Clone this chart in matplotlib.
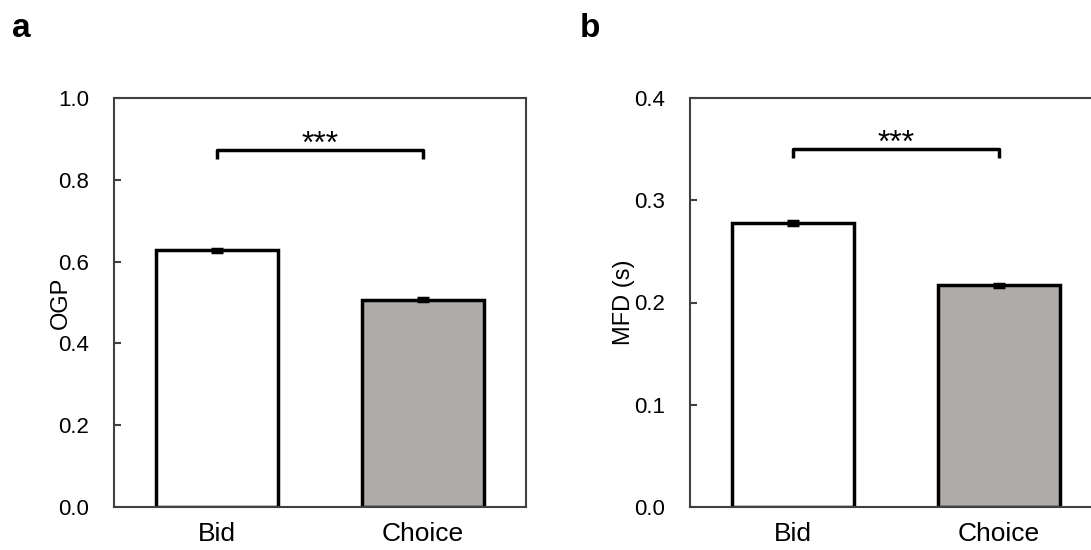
import matplotlib.pyplot as plt

plt.rcParams['font.family'] = ['Liberation Sans', 'DejaVu Sans']

conditions = ["Bid", "Choice"]
ogp_means = [0.628, 0.507]
ogp_errs = [0.004, 0.004]
mfd_means = [0.278, 0.217]
mfd_errs = [0.002, 0.0015]
bar_colors = ["white", "#afaba8"]

fig = plt.figure(figsize=(10.91, 5.5), dpi=100)
ax_a = fig.add_axes([114 / 1091, 43 / 550, 412 / 1091, 409 / 550])
ax_b = fig.add_axes([690 / 1091, 43 / 550, 412 / 1091, 409 / 550])


def draw_panel(ax, means, errs, ymax, yticks, ylabel, bracket_y, drop, label_x):
    x = range(len(conditions))
    ax.bar(x, means, width=0.59, color=bar_colors, edgecolor="black",
           linewidth=2.5, zorder=2)
    ax.errorbar(x, means, yerr=errs, fmt="none", ecolor="black",
                elinewidth=2.5, capsize=4, capthick=2.5, zorder=3)
    # significance bracket
    ax.plot([0, 0, 1, 1], [bracket_y - drop, bracket_y, bracket_y, bracket_y - drop],
            color="black", linewidth=2.5, solid_capstyle="butt")
    ax.text(0.5, bracket_y - 0.008 * ymax, "***", ha="center", va="baseline",
            fontsize=23)
    ax.set_xlim(-0.5, 1.5)
    ax.set_ylim(0, ymax)
    ax.set_yticks(yticks)
    ax.set_yticklabels([f"{t:.1f}" for t in yticks])
    ax.set_xticks(list(x))
    ax.set_xticklabels(conditions)
    ax.tick_params(axis="y", direction="in", length=5, width=1.5,
                   color="#404040", labelsize=16, pad=18)
    ax.tick_params(axis="x", length=0, labelsize=19, pad=11)
    for sp in ax.spines.values():
        sp.set_color("#404040")
        sp.set_linewidth(1.5)
    ax.set_ylabel(ylabel, fontsize=17)
    ax.yaxis.set_label_coords(label_x, 0.5)


draw_panel(ax_a, ogp_means, ogp_errs, 1.0, [0.0, 0.2, 0.4, 0.6, 0.8, 1.0],
           "OGP", 0.873, 0.022, -0.102)
draw_panel(ax_b, mfd_means, mfd_errs, 0.4, [0.0, 0.1, 0.2, 0.3, 0.4],
           "MFD (s)", 0.350, 0.009, -0.133)

fig.text(12 / 1091, 1 - 37 / 550, "a", fontsize=24, fontweight="bold", va="baseline")
fig.text(580 / 1091, 1 - 37 / 550, "b", fontsize=24, fontweight="bold", va="baseline")

plt.savefig("out.png", dpi=100)
